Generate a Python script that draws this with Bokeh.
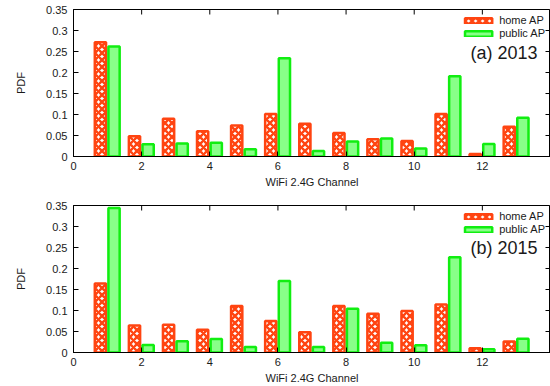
import math
from bokeh.plotting import figure
from bokeh.layouts import column
from bokeh.models import (ColumnDataSource, FixedTicker, CustomJSTickFormatter,
                          Legend, LegendItem, Label, Range1d)
from bokeh.transform import dodge
from bokeh.embed import file_html
from bokeh.resources import INLINE

channels = [1, 2, 3, 4, 5, 6, 7, 8, 9, 10, 11, 12, 13]
home_2013 = [0.272, 0.048, 0.090, 0.060, 0.074, 0.101, 0.078, 0.056, 0.041, 0.037, 0.101, 0.006, 0.071]
public_2013 = [0.262, 0.029, 0.031, 0.033, 0.017, 0.234, 0.013, 0.036, 0.043, 0.019, 0.191, 0.030, 0.092]
home_2015 = [0.164, 0.064, 0.066, 0.054, 0.111, 0.075, 0.048, 0.111, 0.092, 0.099, 0.114, 0.010, 0.026]
public_2015 = [0.344, 0.018, 0.027, 0.032, 0.013, 0.170, 0.013, 0.104, 0.023, 0.017, 0.227, 0.008, 0.033]
x_ticks = [0, 2, 4, 6, 8, 10, 12]
y_ticks = [0, 0.05, 0.1, 0.15, 0.2, 0.25, 0.3, 0.35]
x_max = 14
y_max = 0.35
series_names = ["home AP", "public AP"]
panel_labels = ["(a) 2013", "(b) 2015"]

FONT = "Liberation Sans"
ORANGE = "#ff4411"
GREEN_LINE = "#11ee11"
GREEN_FILL = "#88ff88"
TEXT = "#1a1a1a"

yfmt_code = "var s = tick.toFixed(2); s = s.replace(/0+$/, ''); s = s.replace(/\\.$/, ''); return s;"


def make_panel(home, public, label_text, label_y, top_border, bottom_border):
    src = ColumnDataSource(dict(ch=channels, home=home, public=public))
    p = figure(width=550, height=193, min_border_left=73,
               min_border_right=0, min_border_top=top_border,
               min_border_bottom=bottom_border,
               x_range=Range1d(0, x_max), y_range=Range1d(0, y_max),
               output_backend="svg", toolbar_location=None,
               background_fill_color="white", border_fill_color="white")
    p.xgrid.visible = False
    p.ygrid.visible = False
    p.outline_line_color = "black"
    p.outline_line_width = 1

    r_home = p.vbar(x=dodge("ch", -0.21, range=p.x_range), top="home", width=0.33,
                    source=src, fill_color="white", hatch_pattern="diagonal_cross",
                    hatch_color=ORANGE, hatch_scale=7, hatch_weight=2.4,
                    line_color=ORANGE, line_width=2.5)
    r_pub = p.vbar(x=dodge("ch", 0.19, range=p.x_range), top="public", width=0.33,
                   source=src, fill_color=GREEN_FILL, line_color=GREEN_LINE,
                   line_width=2.5)

    # mirrored tick marks on the top and right edges
    p.ray(x=x_ticks, y=[y_max] * len(x_ticks), length=5, length_units="screen",
          angle=-math.pi / 2, line_color="black", line_width=1)
    p.ray(x=[x_max] * len(y_ticks), y=y_ticks, length=5, length_units="screen",
          angle=math.pi, line_color="black", line_width=1)

    for ax in (p.xaxis[0], p.yaxis[0]):
        ax.major_tick_in = 5
        ax.major_tick_out = 0
        ax.minor_tick_in = 0
        ax.minor_tick_out = 0
        ax.axis_line_color = "black"
        ax.major_label_text_font = FONT
        ax.major_label_text_font_size = "11px"
        ax.major_label_text_color = TEXT
        ax.axis_label_text_font = FONT
        ax.axis_label_text_font_style = "normal"
        ax.axis_label_text_font_size = "11px"
        ax.axis_label_text_color = TEXT

    p.xaxis[0].ticker = FixedTicker(ticks=x_ticks)
    p.xaxis[0].major_label_standoff = 5
    p.xaxis[0].axis_label = "WiFi 2.4G Channel"
    p.xaxis[0].axis_label_standoff = 3
    p.yaxis[0].ticker = FixedTicker(ticks=y_ticks)
    p.yaxis[0].formatter = CustomJSTickFormatter(code=yfmt_code)
    p.yaxis[0].major_label_standoff = 6
    p.yaxis[0].axis_label = "PDF"
    p.yaxis[0].axis_label_standoff = 16

    legend = Legend(items=[LegendItem(label=series_names[0], renderers=[r_home]),
                           LegendItem(label=series_names[1], renderers=[r_pub])],
                    location="top_right", border_line_color=None,
                    background_fill_alpha=0, label_text_font=FONT,
                    label_text_font_size="11px", label_text_color=TEXT,
                    glyph_width=34, glyph_height=7,
                    label_height=10, spacing=1, padding=2, margin=5,
                    label_standoff=4)
    p.add_layout(legend)

    p.add_layout(Label(x=13.62, y=label_y, text=label_text, text_align="right",
                       text_baseline="middle", text_font=FONT,
                       text_font_size="18px", text_color=TEXT))
    return p


p1 = make_panel(home_2013, public_2013, panel_labels[0], 0.247, 9, 37)
p2 = make_panel(home_2015, public_2015, panel_labels[1], 0.250, 12, 34)
layout = column(p1, p2, spacing=0)

open("out.html", "w").write(file_html(layout, INLINE))
